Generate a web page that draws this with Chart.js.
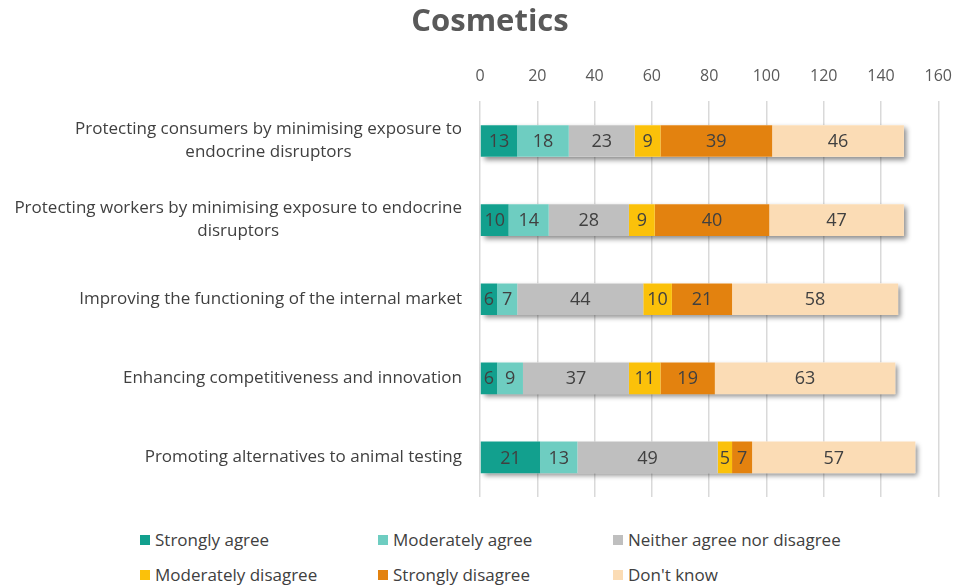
<!DOCTYPE html>
<html>
<head>
<meta charset="utf-8">
<script src="https://cdn.jsdelivr.net/npm/chart.js@4.4.1/dist/chart.umd.min.js"></script>
<style>
  body { margin: 0; background: #fff; font-family: 'Open Sans', sans-serif; }
  #wrap { position: relative; width: 967px; height: 586px; }
  #chartBox { position: absolute; left: 0; top: 0; width: 967px; height: 520px; }
  .legend { position: absolute; left: 0; top: 520px; width: 967px; height: 66px; }
  .legend-item { position: absolute; font-size: 17px; color: #404040; white-space: nowrap; }
  .legend-item span.sw { display: inline-block; width: 10px; height: 10px; margin-right: 5px; vertical-align: 1px; }
</style>
</head>
<body>
<div id="wrap">
  <div id="chartBox"><canvas id="chart"></canvas></div>
  <div class="legend" id="legend"></div>
</div>
<script>
const categories = [
  ['Protecting consumers by minimising exposure to', 'endocrine disruptors'],
  ['Protecting workers by minimising exposure to endocrine', 'disruptors'],
  'Improving the functioning of the internal market',
  'Enhancing competitiveness and innovation',
  'Promoting alternatives to animal testing'
];
const seriesNames = ['Strongly agree', 'Moderately agree', 'Neither agree nor disagree',
  'Moderately disagree', 'Strongly disagree', "Don't know"];
const stronglyAgree = [13, 10, 6, 6, 21];
const moderatelyAgree = [18, 14, 7, 9, 13];
const neither = [23, 28, 44, 37, 49];
const moderatelyDisagree = [9, 9, 10, 11, 5];
const stronglyDisagree = [39, 40, 21, 19, 7];
const dontKnow = [46, 47, 58, 63, 57];
const xTicks = [0, 20, 40, 60, 80, 100, 120, 140, 160];

const colors = ['#12a08e', '#6ecdc1', '#bfbfbf', '#fbc10a', '#e3820f', '#fbdcb5'];
const values = [stronglyAgree, moderatelyAgree, neither, moderatelyDisagree, stronglyDisagree, dontKnow];

const FONT = "'Open Sans', sans-serif";
const TEXT = '#404040';

// shadow under each whole stacked bar
const barShadow = {
  id: 'barShadow',
  beforeDatasetsDraw(chart) {
    const ctx = chart.ctx;
    const first = chart.getDatasetMeta(0).data;
    const last = chart.getDatasetMeta(chart.data.datasets.length - 1).data;
    ctx.save();
    ctx.shadowColor = 'rgba(0,0,0,0.45)';
    ctx.shadowBlur = 5;
    ctx.shadowOffsetX = 3;
    ctx.shadowOffsetY = 3;
    ctx.fillStyle = '#ffffff';
    first.forEach((el, i) => {
      const x0 = el.base;
      const x1 = last[i].x;
      const h = el.height;
      ctx.fillRect(x0, el.y - h / 2, x1 - x0, h);
    });
    ctx.restore();
  }
};

// value labels in the middle of each segment
const valueLabels = {
  id: 'valueLabels',
  afterDatasetsDraw(chart) {
    const ctx = chart.ctx;
    ctx.save();
    ctx.font = '18px ' + FONT;
    ctx.fillStyle = TEXT;
    ctx.textAlign = 'center';
    ctx.textBaseline = 'middle';
    chart.data.datasets.forEach((ds, di) => {
      chart.getDatasetMeta(di).data.forEach((el, i) => {
        ctx.fillText(ds.data[i], (el.x + el.base) / 2, el.y + 1);
      });
    });
    ctx.restore();
  }
};

// category labels: block right-aligned, lines centred inside the block
const catLabels = {
  id: 'catLabels',
  afterDraw(chart) {
    const ctx = chart.ctx;
    const y = chart.scales.y;
    const right = chart.chartArea.left - 18;
    const lh = 23;
    ctx.save();
    ctx.font = '17px ' + FONT;
    ctx.fillStyle = TEXT;
    ctx.textAlign = 'center';
    ctx.textBaseline = 'middle';
    categories.forEach((lab, i) => {
      const lines = Array.isArray(lab) ? lab : [lab];
      const w = Math.max(...lines.map(l => ctx.measureText(l).width));
      const cx = right - w / 2;
      const cy = y.getPixelForTick(i);
      lines.forEach((l, k) => {
        ctx.fillText(l, cx, cy + (k - (lines.length - 1) / 2) * lh);
      });
    });
    ctx.restore();
  }
};

new Chart(document.getElementById('chart'), {
  type: 'bar',
  data: {
    labels: categories,
    datasets: seriesNames.map((name, i) => ({
      label: name,
      data: values[i],
      backgroundColor: colors[i],
      borderWidth: 0,
      categoryPercentage: 1,
      barPercentage: 0.4
    }))
  },
  options: {
    indexAxis: 'y',
    responsive: true,
    maintainAspectRatio: false,
    animation: false,
    layout: { padding: { left: 38, right: 25, top: 0, bottom: 23 } },
    plugins: {
      legend: { display: false },
      tooltip: { enabled: false },
      title: {
        display: true,
        text: 'Cosmetics',
        color: '#595959',
        font: { family: FONT, size: 31, weight: 'bold' },
        padding: { top: 4, bottom: 11 }
      }
    },
    scales: {
      x: {
        position: 'top',
        stacked: true,
        min: 0,
        max: 160,
        afterBuildTicks(scale) { scale.ticks = xTicks.map(v => ({ value: v })); },
        grid: { color: '#d9d9d9', lineWidth: 1.5, drawTicks: false },
        border: { display: false },
        ticks: { color: '#595959', font: { family: FONT, size: 16 }, padding: 15 }
      },
      y: {
        stacked: true,
        grid: { display: false },
        border: { display: false },
        ticks: { display: false },
        afterFit(scale) { scale.width = 442; }
      }
    }
  },
  plugins: [barShadow, valueLabels, catLabels]
});

// legend, three columns by two rows
const legendPos = [[140, 540], [378, 540], [613, 540], [140, 575], [378, 575], [613, 575]];
const legend = document.getElementById('legend');
seriesNames.forEach((name, i) => {
  const d = document.createElement('div');
  d.className = 'legend-item';
  d.style.left = legendPos[i][0] + 'px';
  d.style.top = (legendPos[i][1] - 520 - 12) + 'px';
  d.innerHTML = '<span class="sw" style="background:' + colors[i] + '"></span>';
  d.appendChild(document.createTextNode(name));
  legend.appendChild(d);
});
</script>
</body>
</html>
